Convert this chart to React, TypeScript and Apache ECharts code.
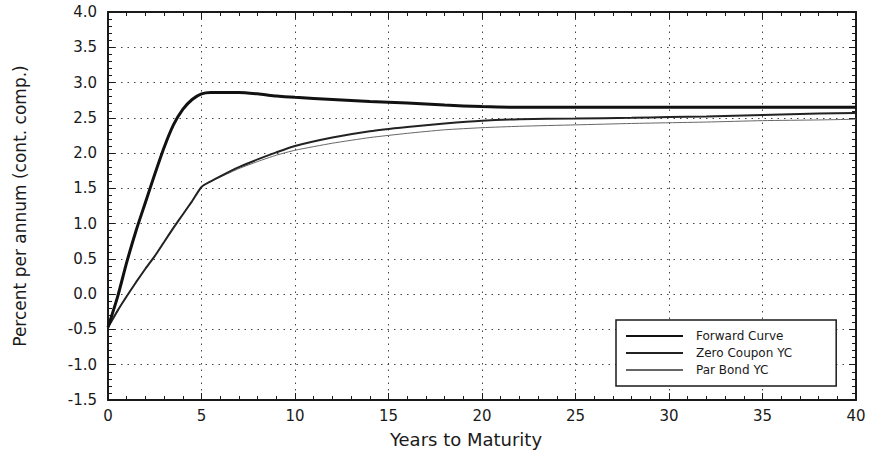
import React, { useEffect, useRef } from "react";
import * as echarts from "echarts";

const years = [0, 0.5, 1, 1.5, 2, 2.5, 3, 3.5, 4, 4.5, 5, 5.5, 6, 7, 8, 9, 10, 12, 14, 16, 18, 20, 22, 25, 28, 30, 32, 35, 38, 40];
const forwardCurve = [-0.47, -0.05, 0.45, 0.9, 1.3, 1.7, 2.08, 2.4, 2.62, 2.76, 2.84, 2.86, 2.86, 2.86, 2.84, 2.81, 2.79, 2.76, 2.73, 2.71, 2.68, 2.66, 2.65, 2.65, 2.65, 2.65, 2.65, 2.65, 2.65, 2.65];
const zeroCoupon = [-0.47, -0.24, -0.03, 0.17, 0.36, 0.54, 0.74, 0.94, 1.13, 1.32, 1.52, 1.6, 1.67, 1.8, 1.91, 2.01, 2.1, 2.22, 2.31, 2.37, 2.42, 2.46, 2.48, 2.49, 2.5, 2.51, 2.52, 2.54, 2.56, 2.57];
const parBond = [-0.47, -0.24, -0.03, 0.17, 0.36, 0.54, 0.74, 0.94, 1.13, 1.32, 1.52, 1.6, 1.66, 1.78, 1.88, 1.97, 2.04, 2.14, 2.22, 2.28, 2.33, 2.36, 2.38, 2.4, 2.42, 2.43, 2.44, 2.46, 2.47, 2.48];
const seriesNames = ["Forward Curve", "Zero Coupon YC", "Par Bond YC"];

const FONT = "DejaVu Sans";
const INK = "#1a1a1a";

export default function App() {
  const ref = useRef<HTMLDivElement>(null);
  useEffect(() => {
    if (!ref.current) return;
    const chart = echarts.init(ref.current, null, { renderer: "svg" });
    const pairs = (ys: number[]) => years.map((x, i) => [x, ys[i]]);
    const tickCommon = {
      axisLine: { show: true, onZero: false, lineStyle: { color: INK, width: 2 } },
      axisTick: { show: true, inside: true, length: 7, lineStyle: { color: INK, width: 1 } },
      minorTick: { show: true, splitNumber: 5, length: 4, lineStyle: { color: INK, width: 1 } },
    };
    chart.setOption({
      animation: false,
      backgroundColor: "#ffffff",
      textStyle: { fontFamily: FONT },
      grid: { left: 108, right: 15, top: 12, bottom: 57, show: false },
      legend: {
        data: seriesNames,
        orient: "vertical",
        left: 616,
        top: 320,
        itemWidth: 57,
        itemHeight: 12,
        itemGap: 5,
        padding: [10, 44, 10, 9],
        backgroundColor: "#ffffff",
        borderColor: INK,
        borderWidth: 1.5,
        borderRadius: 0,
        itemStyle: { opacity: 0 },
        textStyle: { fontFamily: FONT, fontSize: 12, color: INK, padding: [0, 0, 0, 8] },
      },
      xAxis: [
        {
          type: "value",
          min: 0,
          max: 40,
          interval: 5,
          position: "bottom",
          name: "Years to Maturity",
          nameLocation: "middle",
          nameGap: 30,
          nameTextStyle: { fontFamily: FONT, fontSize: 18, color: INK, padding: [0, 32, 0, 0] },
          ...tickCommon,
          axisLabel: { fontFamily: FONT, fontSize: 15, color: INK, margin: 8 },
          splitLine: { show: true, lineStyle: { color: "#444", width: 1, type: [1.5, 5] } },
        },
        {
          type: "value",
          min: 0,
          max: 40,
          interval: 5,
          position: "top",
          ...tickCommon,
          axisLabel: { show: false },
          splitLine: { show: false },
        },
      ],
      yAxis: [
        {
          type: "value",
          min: -1.5,
          max: 4,
          interval: 0.5,
          position: "left",
          name: "Percent per annum (cont. comp.)",
          nameLocation: "middle",
          nameGap: 80,
          nameTextStyle: { fontFamily: FONT, fontSize: 17, color: INK },
          ...tickCommon,
          axisLabel: {
            fontFamily: FONT,
            fontSize: 15,
            color: INK,
            margin: 11,
            formatter: (v: number) => v.toFixed(1),
          },
          splitLine: { show: true, lineStyle: { color: "#444", width: 1, type: [1.5, 5] } },
        },
        {
          type: "value",
          min: -1.5,
          max: 4,
          interval: 0.5,
          position: "right",
          ...tickCommon,
          axisLabel: { show: false },
          splitLine: { show: false },
        },
      ],
      series: [
        {
          name: seriesNames[0],
          type: "line",
          data: pairs(forwardCurve),
          symbol: "none",
          smooth: 0.2,
          lineStyle: { color: "#111", width: 3 },
          itemStyle: { color: "#111" },
          z: 4,
        },
        {
          name: seriesNames[1],
          type: "line",
          data: pairs(zeroCoupon),
          symbol: "none",
          smooth: 0.2,
          lineStyle: { color: "#222", width: 2 },
          itemStyle: { color: "#222" },
          z: 3,
        },
        {
          name: seriesNames[2],
          type: "line",
          data: pairs(parBond),
          symbol: "none",
          smooth: 0.2,
          lineStyle: { color: "#666", width: 1 },
          itemStyle: { color: "#666" },
          z: 2,
        },
      ],
    });
    return () => chart.dispose();
  }, []);
  return <div ref={ref} style={{ width: 871, height: 457, position: "absolute", left: 0, top: 0 }} />;
}
